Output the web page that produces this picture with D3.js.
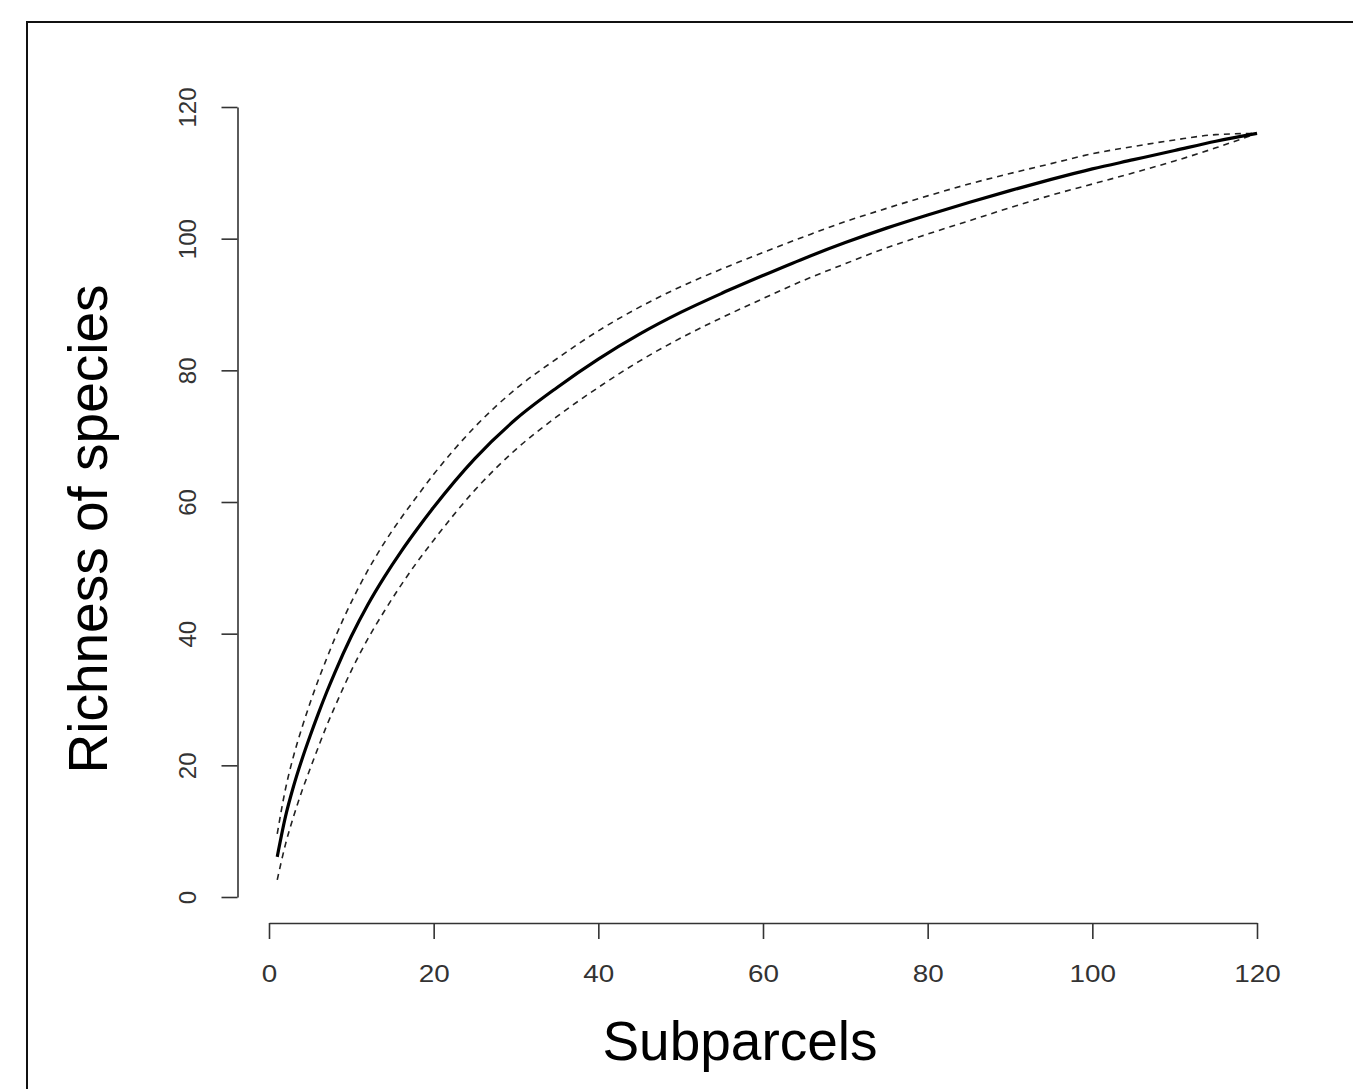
<!DOCTYPE html>
<html>
<head>
<meta charset="utf-8">
<script src="https://cdn.jsdelivr.net/npm/d3@7"></script>
<style>
  html, body { margin: 0; padding: 0; background: #fff; }
  svg { display: block; }
  text { font-family: "Liberation Sans", Arial, sans-serif; }
</style>
</head>
<body>
<svg id="chart" width="1353" height="1089"></svg>
<script>
// ---- data ----
const subparcels = [1,2,3,4,5,6,7,8,10,12,14,16,18,20,25,30,35,40,45,50,55,60,65,70,75,80,85,90,95,100,105,110,115,120];
const richness   = [6.1,12.2,16.9,20.9,24.5,27.9,31.1,34.1,39.6,44.4,48.6,52.4,55.9,59.2,66.6,72.6,77.4,81.7,85.5,88.8,91.7,94.4,97.0,99.4,101.6,103.6,105.5,107.3,109.0,110.6,112.0,113.4,114.8,116.0];
const upperCI    = [9.6,16.4,21.5,25.7,29.5,33.0,36.2,39.3,44.8,49.6,53.8,57.5,60.9,64.2,71.4,77.2,81.8,86.0,89.6,92.7,95.4,97.9,100.3,102.6,104.6,106.5,108.3,109.9,111.4,112.9,114.0,115.0,115.8,116.0];
const lowerCI    = [2.6,8.0,12.3,16.1,19.5,22.8,26.0,28.9,34.4,39.2,43.4,47.3,50.9,54.2,61.8,68.0,73.0,77.4,81.4,84.9,88.0,90.9,93.7,96.2,98.6,100.7,102.7,104.7,106.6,108.3,110.0,111.8,113.8,116.0];
const xTicks = [0,20,40,60,80,100,120];
const yTicks = [0,20,40,60,80,100,120];
const xTitle = "Subparcels";
const yTitle = "Richness of species";

const svg = d3.select("#chart");

// outer frame (extends past the right and bottom edges)
svg.append("rect")
  .attr("x", 27).attr("y", 22)
  .attr("width", 1500).attr("height", 1200)
  .attr("fill", "none").attr("stroke", "#111").attr("stroke-width", 2);

const x = d3.scaleLinear().domain([0, 120]).range([269, 1257]);
const y = d3.scaleLinear().domain([0, 120]).range([897, 107]);

// x axis
const gx = svg.append("g")
  .attr("transform", "translate(0,923)")
  .call(d3.axisBottom(x).tickValues(xTicks).tickSize(16).tickSizeOuter(0));
gx.select(".domain").attr("stroke", "#333").attr("stroke-width", 1.6);
gx.selectAll(".tick line").attr("stroke", "#333").attr("stroke-width", 1.6);
gx.selectAll(".tick text")
  .attr("y", 59).attr("dy", 0)
  .attr("font-size", 24)
  .attr("fill", "#333")
  .attr("font-family", "Liberation Sans, Arial, sans-serif")
  .attr("transform", "scale(1.16,1)");

// y axis
const gy = svg.append("g")
  .attr("transform", "translate(237.5,0)")
  .call(d3.axisLeft(y).tickValues(yTicks).tickSize(16).tickSizeOuter(0));
gy.select(".domain").attr("stroke", "#333").attr("stroke-width", 1.6);
gy.selectAll(".tick line").attr("stroke", "#333").attr("stroke-width", 1.6);
gy.selectAll(".tick text")
  .attr("x", 0).attr("y", 0).attr("dy", 0)
  .attr("text-anchor", "middle")
  .attr("font-size", 24)
  .attr("fill", "#333")
  .attr("font-family", "Liberation Sans, Arial, sans-serif")
  .attr("transform", "translate(-42,0) rotate(-90)");

// curves
const pts = arr => subparcels.map((s, i) => [s, arr[i]]);
const line = d3.line().x(d => x(d[0])).y(d => y(d[1])).curve(d3.curveMonotoneX);

svg.append("path").datum(pts(upperCI))
  .attr("d", line).attr("fill", "none")
  .attr("stroke", "#222").attr("stroke-width", 1.6).attr("stroke-dasharray", "6,5");
svg.append("path").datum(pts(lowerCI))
  .attr("d", line).attr("fill", "none")
  .attr("stroke", "#222").attr("stroke-width", 1.6).attr("stroke-dasharray", "6,5");
svg.append("path").datum(pts(richness))
  .attr("d", line).attr("fill", "none")
  .attr("stroke", "#000").attr("stroke-width", 3.2).attr("stroke-linejoin", "round");

// titles
svg.append("text")
  .attr("x", 740).attr("y", 1060)
  .attr("text-anchor", "middle")
  .attr("font-size", 55).attr("fill", "#000")
  .text(xTitle);

svg.append("text")
  .attr("transform", "translate(107,529) rotate(-90)")
  .attr("text-anchor", "middle")
  .attr("font-size", 55).attr("fill", "#000")
  .text(yTitle);
</script>
</body>
</html>
